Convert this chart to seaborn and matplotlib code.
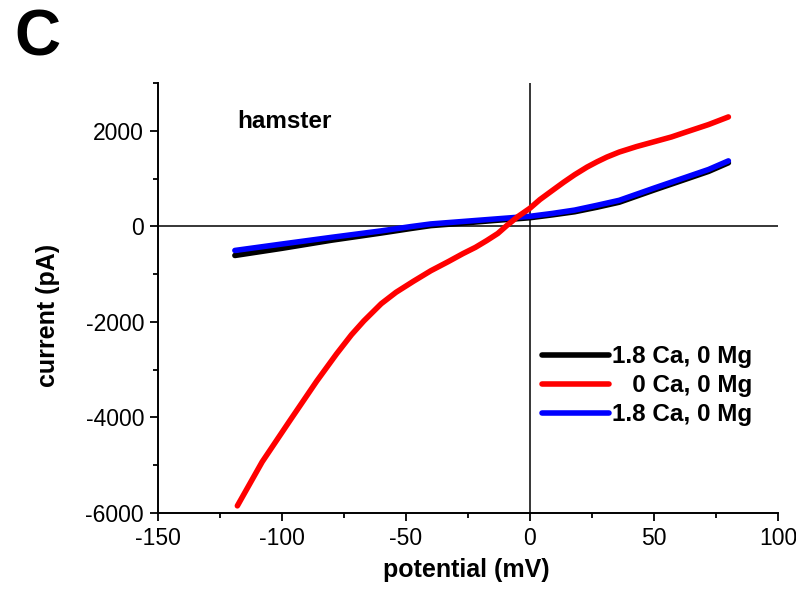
import matplotlib
matplotlib.use("Agg")
import matplotlib.pyplot as plt
import seaborn as sns
import pandas as pd
from matplotlib.lines import Line2D
from matplotlib.ticker import MultipleLocator

# ---- data ----
red_v = [-118, -108, -97, -86, -78, -72, -67, -60, -54, -47, -40, -33, -27, -22, -17.5, -13, -9.5, -5, 0,
         4, 9, 13.5, 18, 23, 27, 31, 36, 43, 50, 57, 63, 72, 80]
red_i = [-5850, -4930, -4080, -3240, -2670, -2270, -1980, -1620, -1380, -1150, -930, -740, -570, -440, -300, -150, 10, 200, 380,
         560, 750, 920, 1080, 1240, 1350, 1450, 1555, 1670, 1770, 1870, 1975, 2130, 2290]

blue_v = [-119, -100, -80, -60, -48, -40, -30, -15, 0, 9, 18, 27, 36, 50, 63, 72, 80]
blue_i = [-505, -370, -230, -95, -5, 50, 90, 150, 210, 270, 340, 440, 545, 800, 1030, 1190, 1370]

black_v = [-119, -100, -80, -60, -48, -40, -30, -15, 0, 9, 18, 27, 36, 50, 63, 72, 80]
black_i = [-610, -460, -290, -140, -45, 15, 55, 120, 180, 240, 305, 400, 505, 760, 990, 1150, 1330]

labels = ["1.8 Ca, 0 Mg", "   0 Ca, 0 Mg", "1.8 Ca, 0 Mg"]
colors = ["#000000", "#ff0000", "#0000ff"]

xticks = [-150, -100, -50, 0, 50, 100]
yticks = [-6000, -4000, -2000, 0, 2000]

sns.set_style("ticks")
plt.rcParams["font.family"] = ["Liberation Sans", "DejaVu Sans"]
plt.rcParams["axes.unicode_minus"] = False
plt.rcParams["text.color"] = "black"
plt.rcParams["axes.labelcolor"] = "black"
plt.rcParams["xtick.color"] = "black"
plt.rcParams["ytick.color"] = "black"

fig = plt.figure(figsize=(7.96, 5.97), dpi=100)
ax = fig.add_axes([158 / 796, 1 - 513 / 597, 620 / 796, 430 / 597])

df_black = pd.DataFrame({"v": black_v, "i": black_i})
df_red = pd.DataFrame({"v": red_v, "i": red_i})
df_blue = pd.DataFrame({"v": blue_v, "i": blue_i})

lw = 4.0
ax.axhline(0, color="black", lw=1.1, zorder=1)
ax.axvline(0, color="black", lw=1.1, zorder=1)
kw = dict(x="v", y="i", sort=False, estimator=None, linewidth=lw, legend=False, ax=ax)
sns.lineplot(data=df_black, color=colors[0], **kw)
sns.lineplot(data=df_blue, color=colors[2], **kw)
sns.lineplot(data=df_red, color=colors[1], **kw)
for ln in ax.get_lines():
    ln.set_solid_capstyle("round")
    ln.set_solid_joinstyle("round")

ax.set_xlim(-150, 100)
ax.set_ylim(-6000, 3000)
ax.set_xticks(xticks)
ax.set_yticks(yticks)
ax.xaxis.set_minor_locator(MultipleLocator(25))
ax.yaxis.set_minor_locator(MultipleLocator(1000))
ax.tick_params(which="major", direction="out", length=6, width=1.3, labelsize=16.5, pad=4, colors="black")
ax.tick_params(which="minor", direction="out", length=3.5, width=1.3, colors="black")
for s in ["top", "right"]:
    ax.spines[s].set_visible(False)
for s in ["left", "bottom"]:
    ax.spines[s].set_linewidth(1.4)
    ax.spines[s].set_color("black")

ax.set_xlabel("potential (mV)", fontsize=18, fontweight="bold", color="black")
ax.set_ylabel("current (pA)", fontsize=18, fontweight="bold", color="black")
ax.xaxis.set_label_coords(0.498, -0.105)
ax.yaxis.set_label_coords(-0.158, 0.46)

ax.text(-118, 2190, "hamster", fontsize=17.5, fontweight="bold", va="center", ha="left", color="black")

handles = [Line2D([], [], color=c, lw=lw, solid_capstyle="round") for c in colors]
leg = ax.legend(handles, labels, loc="upper left", bbox_to_anchor=(0.619, 0.39), frameon=False,
                borderpad=0, borderaxespad=0, handlelength=2.75, handletextpad=0.15, labelspacing=0.25,
                prop={"size": 17.5, "weight": "bold"})
for t in leg.get_texts():
    t.set_color("black")

fig.text(0.018, 0.985, "C", fontsize=46, fontweight="bold", va="top", ha="left", color="black")

fig.savefig("out.png", dpi=100)
